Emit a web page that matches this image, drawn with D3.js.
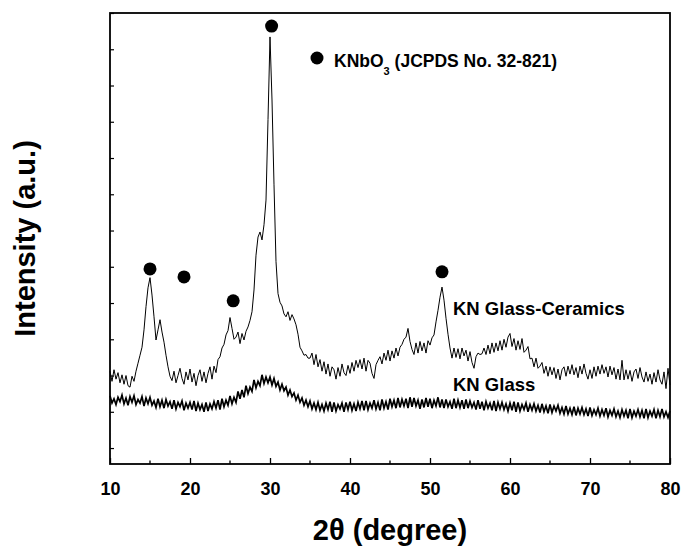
<!DOCTYPE html>
<html>
<head>
<meta charset="utf-8">
<script src="https://cdn.jsdelivr.net/npm/d3@7"></script>
<style>
  body { margin: 0; background: #fff; }
  svg { font-family: "Liberation Sans", Arial, sans-serif; font-weight: bold; }
</style>
</head>
<body>
<svg id="viz"></svg>
<script>
var width = 685;
var height = 550;

// 2theta runs from 10 to 80 in 0.25 degree steps
var thetaStart = 10;
var thetaStep = 0.25;

var ceramics = [
    106, 92, 108, 95,  104, 90, 101, 88,  100, 86, 84, 99,  92, 106, 117, 128,
    139, 163, 195, 221,  235, 211, 181, 149,  163, 177, 160, 146,  128, 112, 99, 93,
    106, 90, 100, 110,  96, 88, 105, 94,  109, 91, 103, 86,  100, 108, 92, 105,
    90, 103, 112, 95,  113, 104, 122, 126,  138, 143, 156, 162,  180, 165, 150, 153,
    160, 144, 158, 149,  161, 167, 176, 188,  218, 266, 291, 298,  287, 308, 342, 453,
    567, 480, 363, 257,  213, 201, 196, 185,  181, 188, 176, 184,  178, 170, 157, 139,
    134, 128, 129, 124,  124, 131, 115, 129,  112, 122, 106, 119,  102, 116, 99, 112,
    108, 95, 111, 99,  116, 104, 100, 114,  103, 118, 106, 121,  111, 122, 109, 124,
    106, 121, 117, 103,  96, 115, 121, 126,  116, 131, 121, 135,  120, 134, 124, 138,
    127, 139, 143, 150,  153, 165, 147, 136,  129, 145, 131, 147,  134, 145, 131, 148,
    142, 152, 156, 174,  190, 208, 222, 204,  179, 157, 138, 124,  138, 125, 137, 123,
    138, 127, 135, 120,  133, 118, 110, 126,  131, 129, 130, 138,  129, 142, 130, 145,
    132, 145, 134, 148,  135, 150, 139, 153,  158, 140, 151, 135,  148, 136, 151, 132,
    135, 140, 123, 124,  112, 124, 110, 113,  118, 103, 113, 99,  112, 101, 111, 96,
    109, 94, 108, 112,  99, 113, 102, 115,  101, 111, 97, 113,  102, 116, 103, 95,
    108, 96, 112, 99,  113, 102, 115, 103,  112, 98, 113, 101,  111, 95, 109, 94,
    121, 94, 108, 95,  107, 92, 105, 109,  96, 111, 98, 91,  105, 92, 102, 88,
    104, 91, 108, 94,  88, 105, 82, 110,  87
];

var glass = [
    72, 62, 68, 60,  70, 64, 73, 61,  69, 59, 71, 63,  72, 60, 67, 62,
    71, 58, 69, 61,  70, 59, 65, 56,  68, 57, 66, 55,  67, 58, 64, 54,
    66, 54, 63, 57,  65, 52, 62, 55,  63, 53, 65, 51,  62, 53, 60, 50,
    63, 51, 61, 54,  64, 55, 66, 53,  68, 57, 66, 59,  72, 61, 70, 63,
    78, 68, 80, 70,  86, 75, 84, 78,  94, 83, 92, 86,  101, 89, 98, 90,
    98, 87, 96, 85,  91, 80, 88, 79,  84, 73, 80, 71,  76, 66, 73, 63,
    69, 59, 66, 57,  65, 54, 62, 53,  63, 52, 60, 51,  62, 53, 64, 50,
    63, 51, 60, 54,  62, 50, 63, 53,  64, 52, 61, 51,  63, 54, 65, 52,
    65, 53, 62, 55,  66, 54, 63, 52,  67, 55, 64, 53,  68, 57, 66, 55,
    69, 56, 67, 58,  68, 55, 70, 57,  69, 58, 66, 54,  67, 56, 69, 57,
    68, 55, 66, 58,  70, 56, 67, 55,  67, 57, 64, 54,  68, 55, 66, 56,
    66, 54, 67, 55,  65, 56, 63, 53,  66, 54, 64, 52,  64, 55, 62, 52,
    65, 51, 63, 54,  63, 53, 61, 51,  62, 52, 64, 50,  63, 51, 60, 53,
    62, 50, 60, 52,  61, 51, 59, 49,  61, 50, 58, 48,  60, 49, 58, 51,
    59, 48, 56, 47,  58, 47, 55, 46,  57, 45, 55, 47,  56, 46, 54, 44,
    56, 45, 53, 46,  55, 44, 53, 45,  55, 43, 52, 45,  54, 43, 51, 42,
    53, 44, 52, 41,  54, 42, 51, 44,  53, 43, 52, 41,  54, 42, 51, 44,
    53, 41, 52, 43,  54, 43, 50, 42,  51
];

// KNbO3 peak markers: [2theta, intensity]
var peakMarks = [[15.0, 247], [19.25, 236], [25.4, 203], [30.2, 582], [51.5, 243]];

var xTicks = [10, 20, 30, 40, 50, 60, 70, 80];
var xMinorTicks = [15, 25, 35, 45, 55, 65, 75];
var yTicks = [0, 50, 100, 150, 200, 250, 300, 350, 400, 450, 500, 550, 600];

var margin = {top: 13, right: 15, bottom: 86, left: 110};
var plotW = width - margin.left - margin.right;
var plotH = height - margin.top - margin.bottom;

var x = d3.scaleLinear().domain([10, 80]).range([0, plotW]);
var y = d3.scaleLinear().domain([-22, 600]).range([plotH, 0]);

var svg = d3.select("#viz").attr("width", width).attr("height", height);
var g = svg.append("g").attr("transform", "translate(" + margin.left + "," + margin.top + ")");

function toPoints(arr) {
    return arr.map(function(v, i) { return [thetaStart + i * thetaStep, v]; });
}

var line = d3.line()
    .x(function(d) { return x(d[0]); })
    .y(function(d) { return y(d[1]); });

g.append("path")
    .datum(toPoints(glass))
    .attr("fill", "none")
    .attr("stroke", "#000")
    .attr("stroke-width", 1.7)
    .attr("d", line);

g.append("path")
    .datum(toPoints(ceramics))
    .attr("fill", "none")
    .attr("stroke", "#000")
    .attr("stroke-width", 1)
    .attr("stroke-linejoin", "round")
    .attr("d", line);

g.selectAll("circle.mark")
    .data(peakMarks)
    .enter().append("circle")
    .attr("class", "mark")
    .attr("cx", function(d) { return x(d[0]); })
    .attr("cy", function(d) { return y(d[1]); })
    .attr("r", 6.5)
    .attr("fill", "#000");

// axes
var xAxis = g.append("g")
    .attr("transform", "translate(0," + plotH + ")")
    .call(d3.axisBottom(x).tickValues(xTicks).tickSize(-6).tickPadding(18).tickFormat(d3.format("d")));
xAxis.select(".domain").remove();
xAxis.selectAll("text").attr("font-size", 18).attr("font-weight", "bold").attr("fill", "#000")
    .attr("font-family", "Liberation Sans, Arial, sans-serif");
xAxis.selectAll("line").attr("stroke-width", 1.3);

g.append("g")
    .attr("transform", "translate(0," + plotH + ")")
    .selectAll("line")
    .data(xMinorTicks)
    .enter().append("line")
    .attr("x1", function(d) { return x(d); })
    .attr("x2", function(d) { return x(d); })
    .attr("y1", 0).attr("y2", -3.5)
    .attr("stroke", "#000").attr("stroke-width", 1.3);

var yAxis = g.append("g")
    .call(d3.axisLeft(y).tickValues(yTicks).tickSize(-4).tickFormat(""));
yAxis.select(".domain").remove();
yAxis.selectAll("line").attr("stroke-width", 1.2);

g.append("rect")
    .attr("x", 0).attr("y", 0)
    .attr("width", plotW).attr("height", plotH)
    .attr("fill", "none").attr("stroke", "#000").attr("stroke-width", 1.8);

// legend
var legend = svg.append("g");
legend.append("circle").attr("cx", 317).attr("cy", 58).attr("r", 6.5).attr("fill", "#000");
var lt = legend.append("text").attr("x", 334).attr("y", 67).attr("font-size", 17.5);
lt.append("tspan").text("KNbO");
lt.append("tspan").attr("dy", 8).attr("font-size", 11).text("3");
lt.append("tspan").attr("dy", -8).text(" (JCPDS No. 32-821)");

// series labels
svg.append("text").attr("x", 453).attr("y", 315).attr("font-size", 18.5).text("KN Glass-Ceramics");
svg.append("text").attr("x", 453).attr("y", 391).attr("font-size", 18.5).text("KN Glass");

// axis titles
svg.append("text")
    .attr("x", margin.left + plotW / 2).attr("y", 540)
    .attr("text-anchor", "middle").attr("font-size", 29)
    .text("2θ (degree)");

svg.append("text")
    .attr("transform", "translate(35," + (margin.top + plotH / 2) + ") rotate(-90)")
    .attr("text-anchor", "middle").attr("font-size", 29)
    .text("Intensity (a.u.)");
</script>
</body>
</html>
